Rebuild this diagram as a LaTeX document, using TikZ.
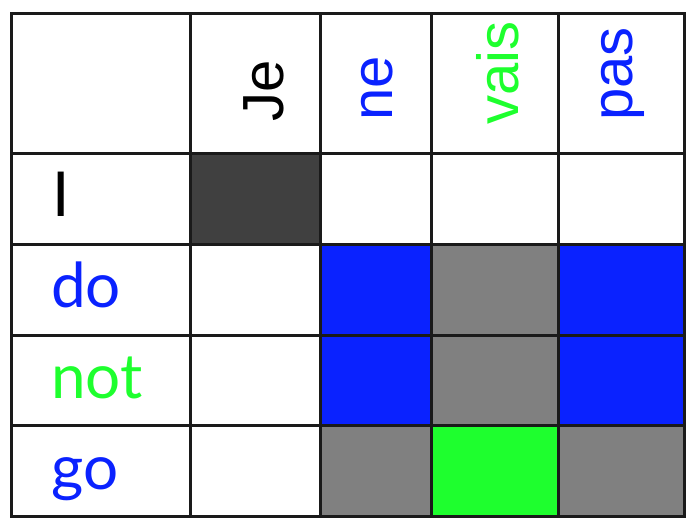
\documentclass[tikz,border=0pt]{standalone}
\usepackage{fontspec}
\setmainfont{Liberation Sans}
\newfontfamily\rowfont{Lato}
\definecolor{wblue}{HTML}{0A22FF}
\definecolor{wgreen}{HTML}{1EFF2E}
\definecolor{wgray}{HTML}{808080}
\definecolor{wdark}{HTML}{404040}
\definecolor{wline}{HTML}{1A1A1A}
\begin{document}
\begin{tikzpicture}[
      x=1pt, y=-1pt,
      grid line/.style={wline, line width=3pt, line cap=rect},
      src word/.style={rotate=90, anchor=base west, inner sep=0pt, font=\fontsize{58}{62}\selectfont},
      tgt word/.style={anchor=base west, inner sep=0pt, font=\rowfont\fontsize{62}{66}\selectfont},
    ]
      \useasboundingbox (0,0) rectangle (698,528);
      % alignment cells
      \fill[wdark]  (190,153) rectangle (320,244);
      \fill[wblue]  (320,244) rectangle (431,335);
      \fill[wgray]  (431,244) rectangle (558,335);
      \fill[wblue]  (558,244) rectangle (684,335);
      \fill[wblue]  (320,335) rectangle (431,425);
      \fill[wgray]  (431,335) rectangle (558,425);
      \fill[wblue]  (558,335) rectangle (684,425);
      \fill[wgray]  (320,425) rectangle (431,516);
      \fill[wgreen] (431,425) rectangle (558,516);
      \fill[wgray]  (558,425) rectangle (684,516);
      % grid
      \foreach \gx in {11,190,320,431,558,684}
        \draw[grid line] (\gx,13) -- (\gx,516);
      \foreach \gy in {13,153,244,335,425,516}
        \draw[grid line] (11,\gy) -- (684,\gy);
      % source words
      \node[src word] (je)   at (283,122) {Je};
      \node[src word, text=wblue]  (ne)   at (392,121) {ne};
      \node[src word, text=wgreen] (vais) at (518,125) {vais};
      \node[src word, text=wblue]  (pas)  at (632,121) {pas};
      % target words
      \node[tgt word] (i)   at (52,216) {I};
      \node[tgt word, text=wblue]  (do)  at (51,307) {do};
      \node[tgt word, text=wgreen] (not) at (51,398) {not};
      \node[tgt word, text=wblue]  (go)  at (51,489) {go};
\end{tikzpicture}
\end{document}
